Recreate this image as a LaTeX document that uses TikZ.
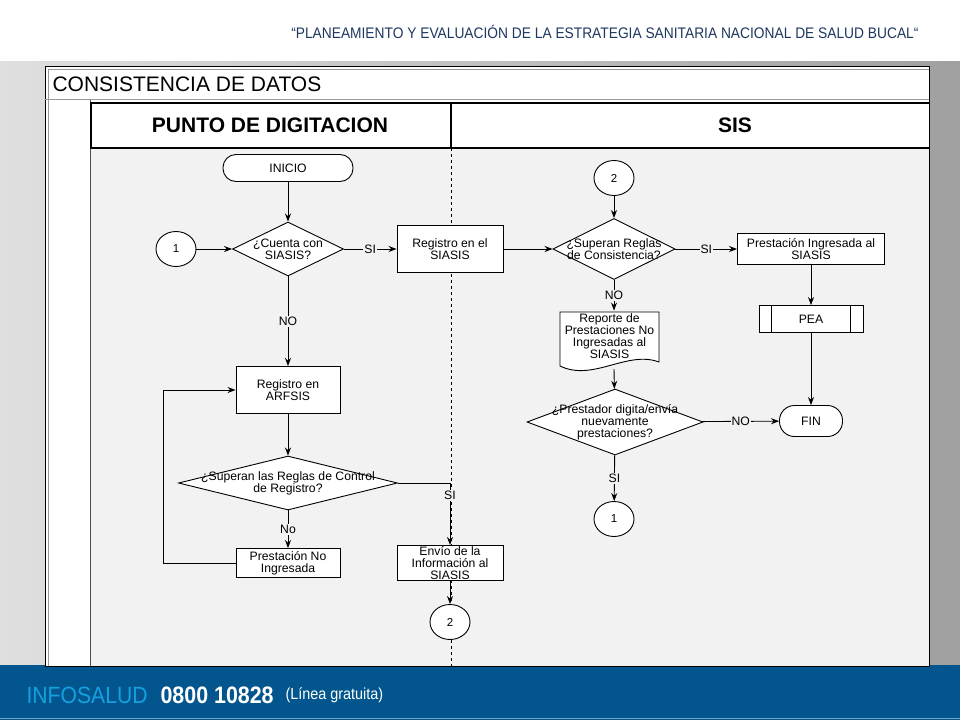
\documentclass[tikz,border=0pt]{standalone}
\usepackage{fontspec}
\setmainfont{Liberation Sans}
\newfontfamily\narrowfont[FakeStretch=0.9]{Liberation Sans}
\usetikzlibrary{shapes.geometric, arrows, arrows.meta, quotes}
\definecolor{lanebg}{RGB}{242,242,242}
\definecolor{footblue}{RGB}{2,86,141}
\definecolor{infoblue}{RGB}{20,160,225}
\definecolor{titlenavy}{RGB}{30,55,95}
\tikzstyle{flowfont} = [font=\fontsize{12.2}{12}\selectfont]
\tikzstyle{terminal} = [rectangle, rounded corners=13pt, draw=black, fill=white, line width=0.9pt, flowfont]
\tikzstyle{process} = [rectangle, align=center, inner sep=1pt, draw=black, fill=white, line width=0.9pt, flowfont]
\tikzstyle{decision} = [diamond, inner sep=0pt, draw=black, fill=white, line width=0.9pt]
\tikzstyle{dtext} = [align=center, inner sep=0pt, flowfont]
\tikzstyle{connector} = [ellipse, minimum width=40pt, minimum height=35pt, draw=black, fill=white, line width=0.9pt, font=\fontsize{11.5}{11.5}\selectfont]
\tikzstyle{lbl} = [fill=lanebg, inner sep=1pt, flowfont]
\tikzstyle{arrow} = [line width=0.9pt,->,>={Stealth[length=8pt,width=6pt]}]

\begin{document}
\begin{tikzpicture}[x=1pt, y=-1pt]
\useasboundingbox (0,0) rectangle (960,720);

% slide background
\fill[white] (0,0) rectangle (960,61);
\shade[left color=gray!25, right color=gray!75] (0,61) rectangle (960,665);
\fill[footblue] (0,665) rectangle (960,720);
\draw[footblue!55!white, line width=1pt] (0,718) -- (960,718);

% frame and lanes
\fill[white] (45,66) rectangle (929,666);
\fill[lanebg] (91,148) rectangle (929,666);
\draw[gray!80, line width=0.8pt] (48,69) -- (929,69);
\draw[gray!80, line width=0.8pt] (48,69) -- (48,666);
\draw[black, line width=1pt] (45,66) rectangle (929,666);
\draw[gray!80, line width=0.8pt] (45,99) -- (929,99);
\draw[gray!60!black, line width=1pt] (90.5,100) -- (90.5,666);
\draw[black, line width=2.5pt] (91,103) -- (929,103);
\draw[black, line width=2.5pt] (91,148) -- (929,148);
\draw[black, line width=2.5pt] (91,102) -- (91,149);
\draw[black, line width=1.2pt] (451,103) -- (451,148);
\draw[black, line width=0.9pt, dashed] (451,148) -- (451,666);

% texts
\node (tit) [anchor=east, text=titlenavy, font=\narrowfont\fontsize{15.3}{17}\selectfont] at (922,32) {“PLANEAMIENTO Y EVALUACIÓN DE LA ESTRATEGIA SANITARIA NACIONAL DE SALUD BUCAL“};
\node (cons) [anchor=west, font=\fontsize{21}{23}\selectfont] at (49,84) {CONSISTENCIA DE DATOS};
\node (lane1) [font=\bfseries\fontsize{21}{23}\selectfont] at (270,125) {PUNTO DE DIGITACION};
\node (lane2) [font=\bfseries\fontsize{21}{23}\selectfont] at (735,125) {SIS};
\node (info) [anchor=west, text=infoblue, font=\narrowfont\fontsize{23.5}{25}\selectfont] at (23,695) {INFOSALUD};
\node (tel) [anchor=west, text=white, font=\narrowfont\bfseries\fontsize{23.8}{25}\selectfont] at (157,695) {0800 10828};
\node (free) [anchor=west, text=white, font=\narrowfont\fontsize{16}{18}\selectfont] at (282,695) {(Línea gratuita)};

% punto de digitacion
\node (n1) [terminal, minimum width=130pt, minimum height=27pt] at (288,168) {INICIO};
\node (c1) [connector] at (176,249) {1};
\node (n2) [decision, minimum width=111pt, minimum height=54pt, label={[dtext]center:{¿Cuenta con\\SIASIS?}}] at (288,249) {};
\node (n3) [process, minimum width=106pt, minimum height=47pt] at (450,249) {Registro en el\\SIASIS};
\node (n4) [process, minimum width=104pt, minimum height=47pt] at (288,390) {Registro en\\ARFSIS};
\node (n5) [decision, minimum width=219pt, minimum height=54pt, label={[dtext]center:{¿Superan las Reglas de Control\\de Registro?}}] at (288,483) {};
\node (n6) [process, minimum width=104pt, minimum height=29pt] at (288,563) {Prestación No\\Ingresada};
\node (n7) [process, minimum width=106pt, minimum height=34pt] at (450,563) {Envío de la\\Información al\\SIASIS};
\node (c2b) [connector] at (450,622) {2};

% sis
\node (c2) [connector] at (614,178) {2};
\node (n8) [decision, minimum width=122pt, minimum height=61pt, label={[dtext]center:{¿Superan Reglas\\de Consistencia?}}] at (614,249) {};
\node (n9) [process, minimum width=147pt, minimum height=31pt] at (811,249) {Prestación Ingresada al\\SIASIS};
\node (n10) [process, minimum width=104pt, minimum height=27pt] at (811,319) {PEA};
\draw[line width=0.9pt] ([xshift=13pt]n10.north west) -- ([xshift=13pt]n10.south west);
\draw[line width=0.9pt] ([xshift=-13pt]n10.north east) -- ([xshift=-13pt]n10.south east);
\node (n11) [terminal, rounded corners=15pt, minimum width=63pt, minimum height=31pt] at (811,421) {FIN};
\filldraw[fill=white, draw=black, line width=0.9pt] (560,312) -- (659,312) -- (659,362) .. controls (627,350) and (593,382) .. (560,366) -- cycle;
\node (n12) [process, draw=none, fill=none, minimum width=99pt, minimum height=50pt] at (609.5,336) {Reporte de\\Prestaciones No\\Ingresadas al\\SIASIS};
\coordinate (w1) at (614,369);
\node (n13) [decision, minimum width=176pt, minimum height=66pt, label={[dtext]center:{¿Prestador digita/envía\\nuevamente\\prestaciones?}}] at (615,422) {};
\node (c1b) [connector] at (614,519) {1};

\draw [arrow] (n1) -- (n2);
\draw [arrow] (c1) -- (n2);
\draw [arrow] (n2) -- node[lbl] {SI} (n3);
\draw [arrow] (n2) -- node[lbl] {NO} (n4);
\draw [arrow] (n4) -- (n5);
\draw [arrow] (n5) -- node[lbl] {No} (n6);
\draw [arrow] (n6.west) -- ++(-72,0) |- (n4.west);
\draw [arrow] (n5.east) -| node[lbl, pos=0.6] {SI} (n7.north);
\draw [arrow] (n7) -- (c2b);
\draw [arrow] (n3) -- (n8);
\draw [arrow] (c2) -- (n8);
\draw [arrow] (n8) -- node[lbl] {SI} (n9);
\draw [arrow] (n8) -- node[lbl] {NO} (n8 |- n12.north);
\draw [arrow] (n9) -- (n10);
\draw [arrow] (n10) -- (n11);
\draw [arrow] (w1) -- (n13);
\draw [arrow] (n13) -- node[lbl] {NO} (n11);
\draw [arrow] (n13) -- node[lbl] {SI} (c1b);

\end{tikzpicture}
\end{document}
